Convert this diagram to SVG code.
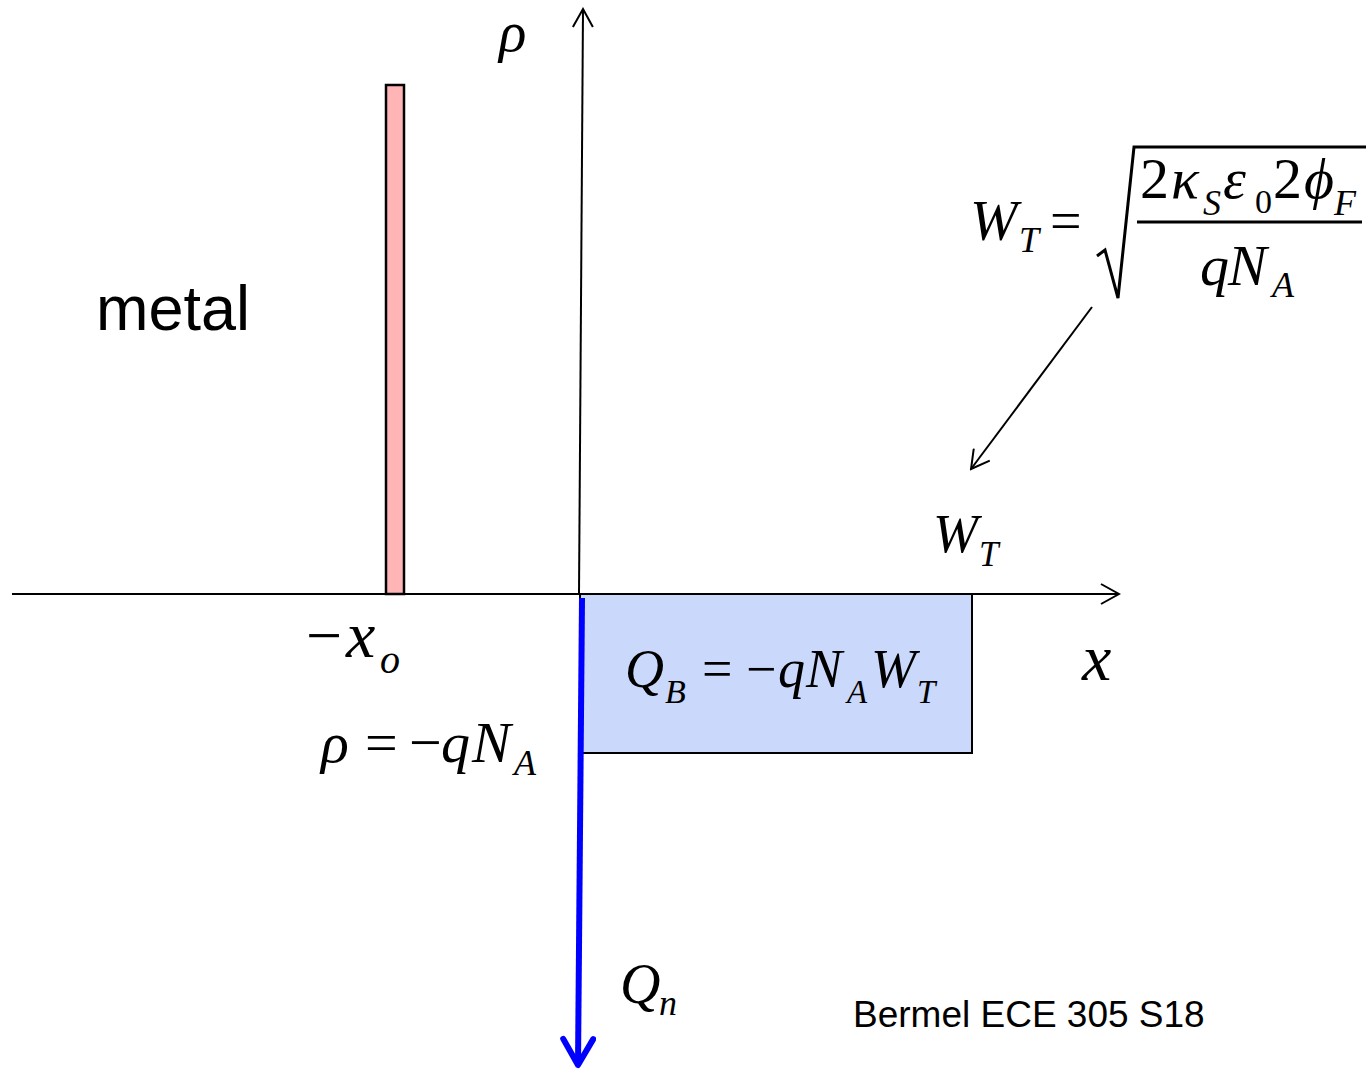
<svg xmlns="http://www.w3.org/2000/svg" width="1372" height="1071" viewBox="0 0 1372 1071">
<style>
.m{font-family:"Liberation Serif","Times New Roman",serif;font-style:italic;fill:#000}
.u{font-style:normal}
.s{font-family:"Liberation Sans",Arial,sans-serif;fill:#000}
.ax{stroke:#000;stroke-width:2;fill:none}
</style>
<defs>
<marker id="ah" viewBox="0 0 22 22" refX="20" refY="11" markerWidth="22" markerHeight="22" markerUnits="userSpaceOnUse" orient="auto">
<path d="M2,1 L20,11 L2,21" fill="none" stroke="#000" stroke-width="2"/>
</marker>
<marker id="bh" viewBox="0 0 36 36" refX="31" refY="18" markerWidth="36" markerHeight="36" markerUnits="userSpaceOnUse" orient="auto">
<path d="M5,3 L31,18 L5,33" fill="none" stroke="#0000ff" stroke-width="6" stroke-linecap="round" stroke-linejoin="round"/>
</marker>
</defs>
<rect width="1372" height="1071" fill="#fff"/>

<g id="metal-charge">
<rect x="386" y="85" width="18" height="509" fill="#ffb5b5" stroke="#000" stroke-width="2.5"/>
</g>
<g id="depletion-box">
<rect x="580" y="594" width="392" height="159" fill="#c9d8fb" stroke="#000" stroke-width="2"/>
<text class="m" font-size="54"><tspan x="625" y="687">Q</tspan><tspan x="665" y="703" font-size="34">B</tspan><tspan class="u" x="702" y="687">=</tspan><tspan class="u" x="746" y="687">−</tspan><tspan x="778" y="687">q</tspan><tspan x="806" y="687">N</tspan><tspan x="847" y="703" font-size="33">A</tspan><tspan x="871" y="687">W</tspan><tspan x="917" y="703" font-size="33">T</tspan></text>
</g>

<g id="connectors">
<line class="ax" x1="12" y1="594" x2="1119" y2="594" marker-end="url(#ah)"/>
<line class="ax" x1="579" y1="594" x2="583" y2="9" marker-end="url(#ah)"/>
<line class="ax" x1="1092" y1="307" x2="971" y2="469" marker-end="url(#ah)"/>
<line x1="582" y1="598" x2="578" y2="1065" stroke="#0000ff" stroke-width="6" marker-end="url(#bh)"/>
</g>

<g id="label-rho">
<text class="m" x="499" y="51" font-size="57">ρ</text>
</g>
<g id="label-metal">
<text class="s" x="96" y="330" font-size="63">metal</text>
</g>
<g id="formula-WT">
<text class="m" font-size="57"><tspan x="970" y="240">W</tspan><tspan x="1019" y="252" font-size="36">T</tspan><tspan class="u" x="1050" y="240" font-size="56">=</tspan></text>
<path d="M1097,256 L1105,250 L1118,298 L1134,147 L1366,147" fill="none" stroke="#000" stroke-width="3" stroke-linejoin="miter"/>
<line x1="1137" y1="222" x2="1362" y2="222" stroke="#000" stroke-width="3"/>
<text class="m" font-size="58"><tspan class="u" x="1140" y="198">2</tspan><tspan x="1171" y="198">κ</tspan><tspan x="1203" y="215" font-size="36">S</tspan><tspan x="1223" y="198">ε</tspan><tspan class="u" x="1255" y="213" font-size="34">0</tspan><tspan class="u" x="1273" y="198">2</tspan><tspan x="1304" y="198">ϕ</tspan><tspan x="1334" y="215" font-size="36">F</tspan></text>
<text class="m" font-size="58"><tspan x="1200" y="285">q</tspan><tspan x="1228" y="285">N</tspan><tspan x="1272" y="297" font-size="36">A</tspan></text>
</g>
<g id="label-WT">
<text class="m" font-size="54"><tspan x="933" y="552">W</tspan><tspan x="979" y="566" font-size="35">T</tspan></text>
</g>
<g id="label-xo">
<text class="m" font-size="64"><tspan class="u" x="306" y="657">−</tspan><tspan x="346" y="657" font-size="66">x</tspan><tspan x="380" y="673" font-size="40">o</tspan></text>
</g>
<g id="label-x">
<text class="m" x="1082" y="680" font-size="66">x</text>
</g>
<g id="label-rho-eq">
<text class="m" font-size="58"><tspan x="321" y="762">ρ</tspan><tspan class="u" x="365" y="762">=</tspan><tspan class="u" x="409" y="762">−</tspan><tspan x="441" y="762">q</tspan><tspan x="472" y="762">N</tspan><tspan x="514" y="775" font-size="36">A</tspan></text>
</g>
<g id="label-Qn">
<text class="m" font-size="56"><tspan x="620" y="1003">Q</tspan><tspan x="659" y="1015" font-size="36">n</tspan></text>
</g>
<g id="label-credit">
<text class="s" x="853" y="1027" font-size="37">Bermel ECE 305 S18</text>
</g>
</svg>
